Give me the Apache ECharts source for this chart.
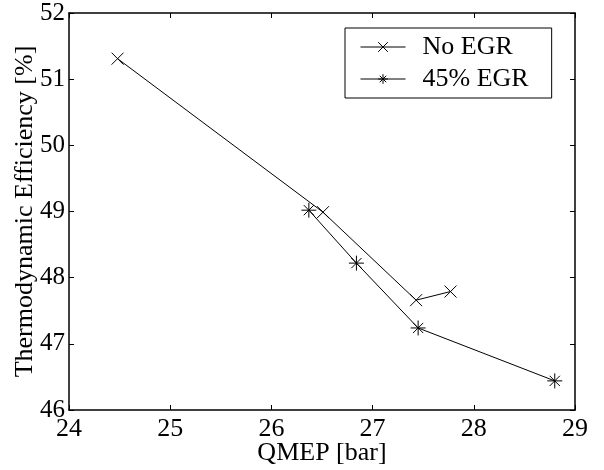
<!DOCTYPE html>
<html>
<head>
<meta charset="utf-8">
<script src="https://cdn.jsdelivr.net/npm/echarts@6/dist/echarts.min.js"></script>
<style>html,body{margin:0;padding:0;background:#fff;}#c{width:604px;height:470px;}</style>
</head>
<body>
<div id="c"></div>
<script>
var seriesNames = ['No EGR', '45% EGR'];
var noEgrX = [24.48, 26.51, 27.43, 27.77];
var noEgrY = [51.31, 48.99, 47.66, 47.79];
var egrX = [26.37, 26.84, 27.45, 28.80];
var egrY = [49.02, 48.22, 47.24, 46.44];
var xTicks = [24, 25, 26, 27, 28, 29];
var yTicks = [46, 47, 48, 49, 50, 51, 52];

function pairs(xs, ys) { return xs.map(function (x, i) { return [x, ys[i]]; }); }

var font = 'Liberation Serif';
var xSym = 'path://M0,0L10,10M0,10L10,0';
var starSym = 'path://M5,0L5,10M0,5L10,5M1.6,1.6L8.4,8.4M1.6,8.4L8.4,1.6';

var chart = echarts.init(document.getElementById('c'), null, {renderer: 'canvas'});
var axisCommon = {
  type: 'value',
  axisLine: {show: true, onZero: false, lineStyle: {color: '#000', width: 1.5}},
  axisTick: {show: true, inside: true, length: 5, lineStyle: {color: '#000', width: 1}},
  splitLine: {show: false},
  nameMoveOverlap: false
};
chart.setOption({
  animation: false,
  backgroundColor: '#fff',
  grid: {left: 69, right: 29, top: 13, bottom: 60, containLabel: false, outerBoundsMode: 'none'},
  xAxis: [
    Object.assign({}, axisCommon, {
      min: xTicks[0], max: xTicks[xTicks.length - 1], interval: 1, position: 'bottom',
      name: 'QMEP [bar]', nameLocation: 'middle', nameGap: 30,
      nameTextStyle: {fontFamily: font, fontSize: 26, color: '#000'},
      axisLabel: {fontFamily: font, fontSize: 26, color: '#000', margin: 6}
    }),
    Object.assign({}, axisCommon, {
      min: xTicks[0], max: xTicks[xTicks.length - 1], interval: 1, position: 'top',
      axisLabel: {show: false}
    })
  ],
  yAxis: [
    Object.assign({}, axisCommon, {
      min: yTicks[0], max: yTicks[yTicks.length - 1], interval: 1, position: 'left',
      name: 'Thermodynamic Efficiency [%]', nameLocation: 'middle', nameGap: 31,
      nameTextStyle: {fontFamily: font, fontSize: 26, color: '#000'},
      axisLabel: {fontFamily: font, fontSize: 25, color: '#000', margin: 4}
    }),
    Object.assign({}, axisCommon, {
      min: yTicks[0], max: yTicks[yTicks.length - 1], interval: 1, position: 'right',
      axisLabel: {show: false}
    })
  ],
  legend: {
    orient: 'vertical',
    left: 345, top: 28,
    padding: [6, 23, 6, 15],
    itemGap: 6,
    itemWidth: 45, itemHeight: 12,
    backgroundColor: '#fff',
    borderColor: '#000', borderWidth: 1,
    lineStyle: {width: 1, color: '#000'},
    itemStyle: {borderWidth: 1, borderColor: '#000'},
    textStyle: {fontFamily: font, fontSize: 26, color: '#000', padding: [0, 0, 0, 12], lineHeight: 26},
    data: seriesNames
  },
  series: [
    {
      name: seriesNames[0], type: 'line', data: pairs(noEgrX, noEgrY),
      symbol: xSym, symbolSize: 12, showAllSymbol: true,
      lineStyle: {color: '#000', width: 1},
      itemStyle: {color: '#000', borderColor: '#000', borderWidth: 1}
    },
    {
      name: seriesNames[1], type: 'line', data: pairs(egrX, egrY),
      symbol: starSym, symbolSize: 15, showAllSymbol: true,
      lineStyle: {color: '#000', width: 1},
      itemStyle: {color: '#000', borderColor: '#000', borderWidth: 1}
    }
  ]
});
</script>
</body>
</html>
